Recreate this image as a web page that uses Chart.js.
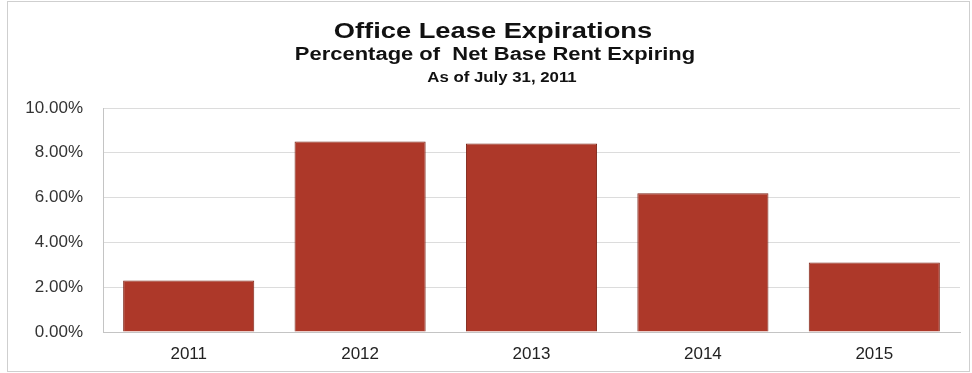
<!DOCTYPE html>
<html>
<head>
<meta charset="utf-8">
<title>Office Lease Expirations</title>
<script src="https://cdn.jsdelivr.net/npm/chart.js@4.4.1/dist/chart.umd.min.js"></script>
<style>
  html, body { margin: 0; padding: 0; background: #ffffff; }
  #wrap { position: relative; width: 972px; height: 373px; }
</style>
</head>
<body>
<div id="wrap"><canvas id="chart" width="972" height="373"></canvas></div>
<script>
// Lease expiration years and share of net base rent expiring (%)
const years = ['2011', '2012', '2013', '2014', '2015'];
const pctExpiring = [2.30, 8.50, 8.42, 6.19, 3.10];
const yTicks = [0, 2, 4, 6, 8, 10];
const headerLines = [
  'Office Lease Expirations',
  'Percentage of  Net Base Rent Expiring',
  'As of July 31, 2011'
];

// White background, thin frame and the three-line bold heading
const frameAndHeader = {
  id: 'frameAndHeader',
  beforeDraw(chart) {
    const ctx = chart.ctx;
    ctx.save();
    ctx.fillStyle = '#ffffff';
    ctx.fillRect(0, 0, chart.width, chart.height);
    ctx.strokeStyle = '#cfcfcf';
    ctx.lineWidth = 1;
    ctx.strokeRect(7.5, 1.5, 962, 370);
    ctx.restore();
  },
  afterDraw(chart) {
    const ctx = chart.ctx;
    const styles = [
      { size: 22, y: 38, x: 493, sx: 1.24 },
      { size: 18, y: 60, x: 495, sx: 1.22 },
      { size: 15, y: 82, x: 502, sx: 1.12 }
    ];
    ctx.save();
    ctx.fillStyle = '#111111';
    ctx.textAlign = 'center';
    ctx.textBaseline = 'alphabetic';
    headerLines.forEach((line, i) => {
      const s = styles[i];
      ctx.save();
      ctx.translate(s.x, s.y);
      ctx.scale(s.sx, 1);
      ctx.font = 'bold ' + s.size + 'px "Liberation Sans", Arial, sans-serif';
      ctx.fillText(line, 0, 0);
      ctx.restore();
    });
    ctx.restore();
  }
};

new Chart(document.getElementById('chart'), {
  type: 'bar',
  data: {
    labels: years,
    datasets: [{
      data: pctExpiring,
      backgroundColor: '#ad3829',
      borderColor: '#7e2619',
      borderWidth: 1,
      barPercentage: 1.0,
      categoryPercentage: 0.765
    }]
  },
  options: {
    responsive: false,
    animation: false,
    layout: { padding: { top: 108, right: 12, bottom: 0, left: 0 } },
    plugins: {
      legend: { display: false },
      title: { display: false },
      tooltip: { enabled: false }
    },
    scales: {
      x: {
        grid: { display: false, drawTicks: false },
        border: { display: true, color: '#c4c4c4', width: 1 },
        ticks: {
          padding: 12,
          color: '#222222',
          font: { family: '"Liberation Sans", Arial, sans-serif', size: 17 }
        },
        afterFit(scale) { scale.height = 41; }
      },
      y: {
        min: 0,
        max: 10,
        afterBuildTicks(scale) { scale.ticks = yTicks.map(v => ({ value: v })); },
        grid: { color: '#dcdcdc', lineWidth: 1, drawTicks: false },
        border: { display: true, color: '#c4c4c4', width: 1 },
        ticks: {
          padding: 20,
          color: '#333333',
          font: { family: '"Liberation Sans", Arial, sans-serif', size: 17 },
          callback: v => v.toFixed(2) + '%'
        },
        afterFit(scale) { scale.width = 103; }
      }
    }
  },
  plugins: [frameAndHeader]
});
</script>
</body>
</html>
